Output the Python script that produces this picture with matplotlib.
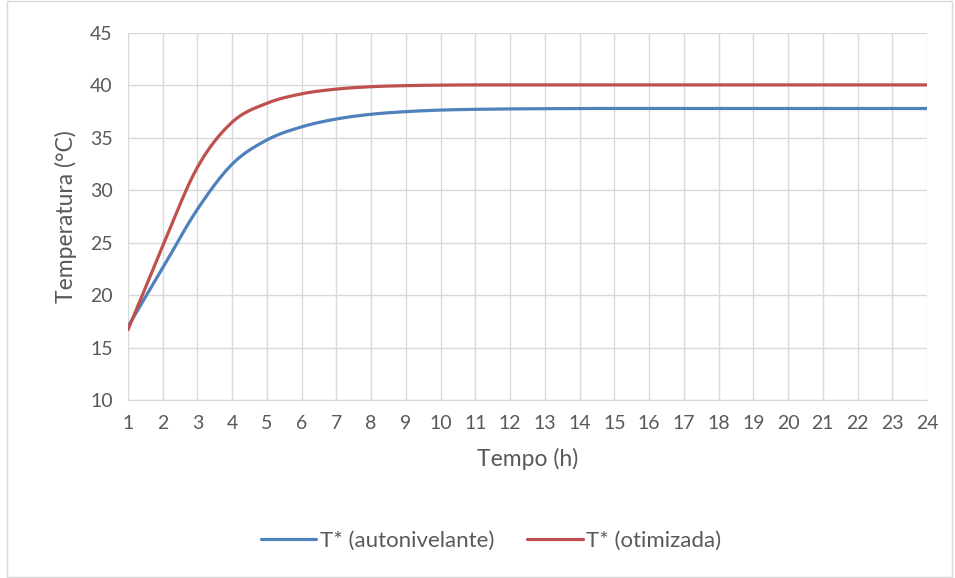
import matplotlib.pyplot as plt
import numpy as np

horas = list(range(1, 25))
t_autonivelante = [17.0, 22.6, 28.2, 32.5, 34.8, 36.05, 36.8, 37.25, 37.5, 37.65, 37.72, 37.76,
                   37.78, 37.8, 37.8, 37.8, 37.8, 37.8, 37.8, 37.8, 37.8, 37.8, 37.8, 37.8]
t_otimizada = [16.7, 24.7, 32.2, 36.5, 38.3, 39.2, 39.65, 39.88, 39.98, 40.03, 40.05, 40.05,
               40.05, 40.05, 40.05, 40.05, 40.05, 40.05, 40.05, 40.05, 40.05, 40.05, 40.05, 40.05]


def suavizar(x, y, n=20):
    # curva suave estilo excel (bezier com pontos de controle a 1/6)
    x = np.asarray(x, float)
    y = np.asarray(y, float)
    px = np.concatenate([[x[0]], x, [x[-1]]])
    py = np.concatenate([[y[0]], y, [y[-1]]])
    xs, ys = [], []
    t = np.linspace(0, 1, n, endpoint=False)
    for i in range(1, len(px) - 2):
        p0, p1, p2, p3 = [np.array([px[j], py[j]]) for j in (i - 1, i, i + 1, i + 2)]
        c1 = p1 + (p2 - p0) / 6
        c2 = p2 - (p3 - p1) / 6
        b = ((1 - t) ** 3)[:, None] * p1 + (3 * (1 - t) ** 2 * t)[:, None] * c1 \
            + (3 * (1 - t) * t ** 2)[:, None] * c2 + (t ** 3)[:, None] * p2
        xs.extend(b[:, 0])
        ys.extend(b[:, 1])
    xs.append(x[-1])
    ys.append(y[-1])
    return xs, ys


plt.rcParams['font.family'] = ['Lato', 'DejaVu Sans']
cinza = '#595959'

fig = plt.figure(figsize=(9.55, 5.78), dpi=100)
ax = fig.add_axes([128 / 955, 1 - 400 / 578, (927 - 128) / 955, (400 - 33) / 578])

xa, ya = suavizar(horas, t_autonivelante)
xo, yo = suavizar(horas, t_otimizada)
ax.plot(xa, ya, color='#4f81bd', lw=2.3, label='T* (autonivelante)', solid_capstyle='round')
ax.plot(xo, yo, color='#c0504d', lw=2.3, label='T* (otimizada)', solid_capstyle='round')

ax.set_xlim(1, 24)
ax.set_ylim(10, 45)
ax.set_xticks(horas)
ax.set_yticks(range(10, 46, 5))
ax.grid(True, color='#d9d9d9', lw=1)
ax.set_axisbelow(True)
for s in ['top', 'right', 'left']:
    ax.spines[s].set_visible(False)
ax.spines['bottom'].set_color('#d9d9d9')
ax.tick_params(length=0, labelsize=14, labelcolor=cinza, pad=11)
ax.set_xlabel('Tempo (h)', fontsize=16.5, color=cinza, labelpad=11)
ax.set_ylabel('Temperatura (°C)', fontsize=16.5, color=cinza, labelpad=9)

fig.legend(loc='center', bbox_to_anchor=(491 / 955, 1 - 541 / 578), ncol=2, frameon=False,
           fontsize=16, labelcolor=cinza, handlelength=2.5, handletextpad=0.15, columnspacing=1.5)

borda = plt.Rectangle((7 / 955, 0.001), 0.99, 0.997, transform=fig.transFigure, fill=False,
                      edgecolor='#d9d9d9', lw=1)
fig.patches.append(borda)

fig.savefig('out.png', dpi=100)
